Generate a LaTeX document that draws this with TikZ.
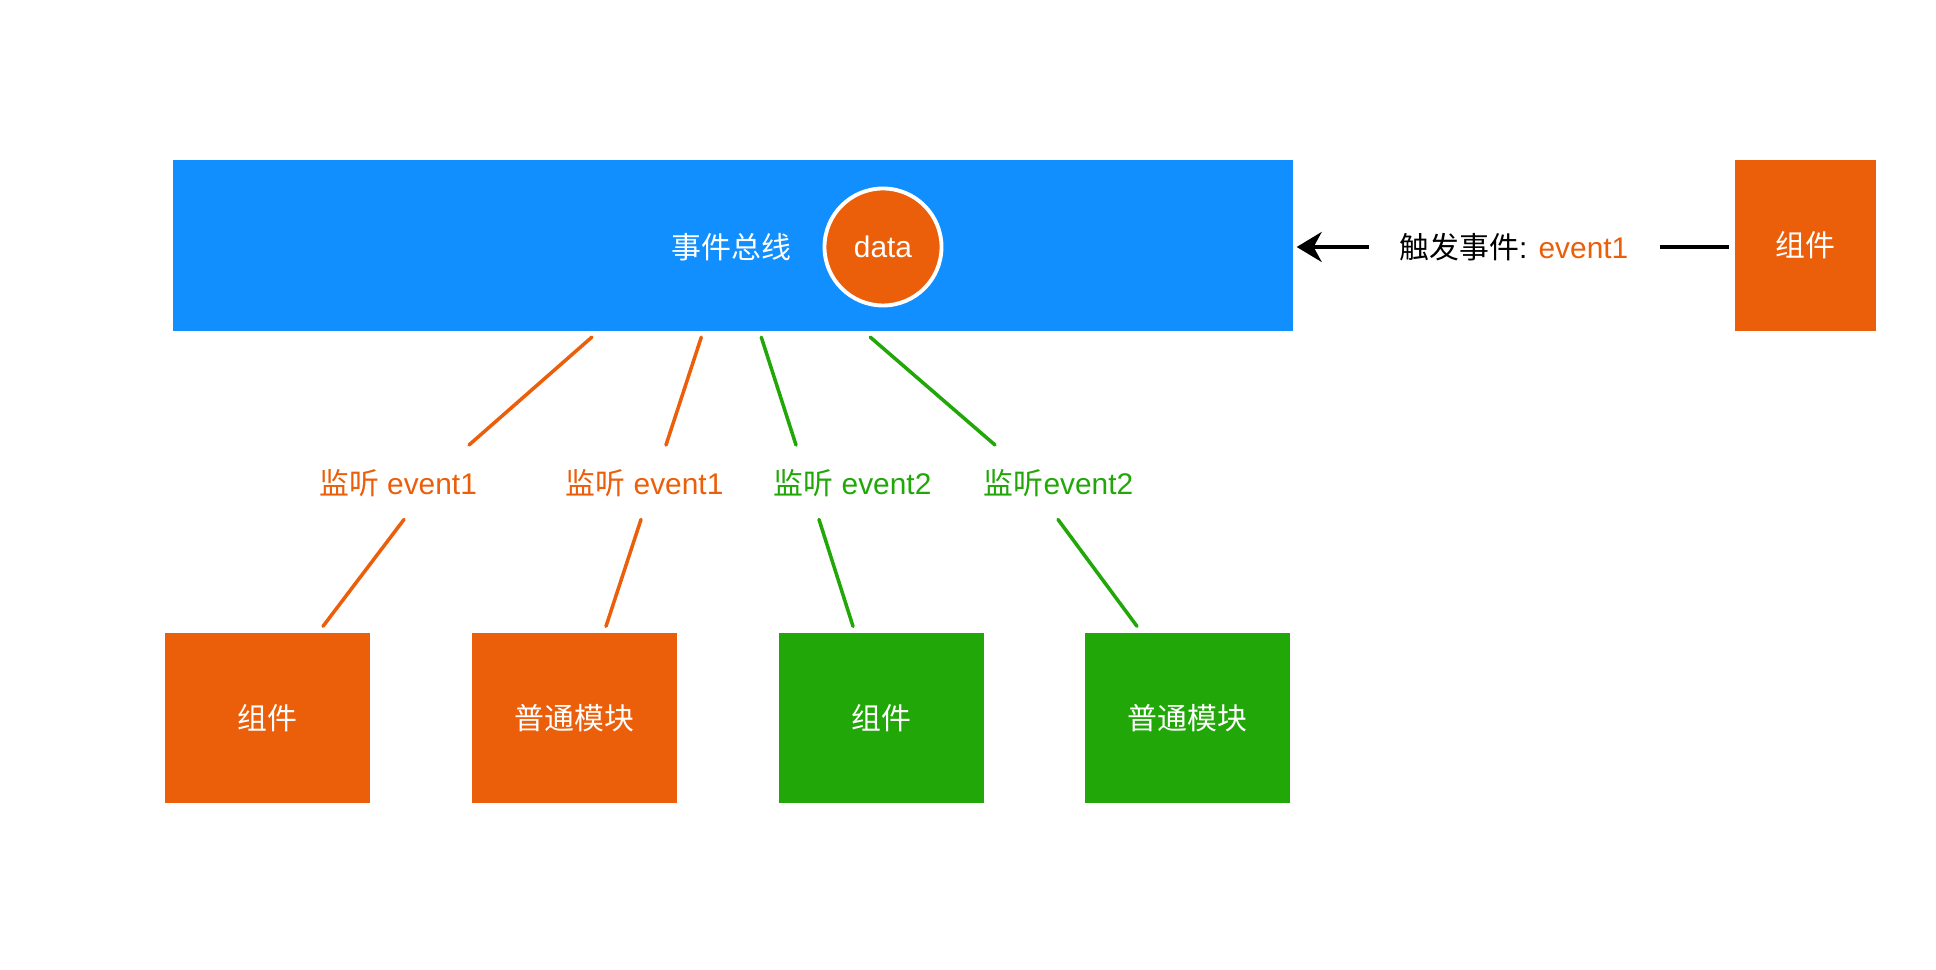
\documentclass[tikz,border=0pt]{standalone}
\usepackage{fontspec}
\setmainfont{Liberation Sans}
\newfontfamily\cjk{Noto Sans CJK SC}
\usepackage{tikz}
\usetikzlibrary{arrows.meta,calc,positioning}
\definecolor{BusBlue}{HTML}{128FFF}
\definecolor{EvOrange}{HTML}{EB5E0A}
\definecolor{EvGreen}{HTML}{21A708}
\tikzset{
  txt/.style={inner sep=0pt,font=\fontsize{8.5}{10}\selectfont},
  modbox/.style={fill=#1,minimum width=2.05cm,minimum height=1.70cm,text=white,font=\cjk\fontsize{8.5}{10}\selectfont},
  wire/.style={draw=#1,line width=1pt,line cap=round}
}
\begin{document}
\begin{tikzpicture}
\useasboundingbox (0,0) rectangle (19.36,9.70);
% event bus
\node[fill=BusBlue,minimum width=11.20cm,minimum height=1.71cm] (bus) at (7.33,7.245) {};
\node[txt,text=white,font=\cjk\fontsize{8.5}{10}\selectfont] (busname) at (7.315,7.23) {事件总线};
\node[circle,fill=EvOrange,draw=white,line width=1.1pt,minimum size=1.17cm,txt,text=white] (data) at (8.83,7.23) {data};
% emitting component
\node[modbox=EvOrange,minimum width=1.41cm,minimum height=1.71cm] (src) at (18.055,7.245) {组件};
\node[txt] (emit) at (15.14,7.23) {{\cjk 触发事件}: \textcolor{EvOrange}{event1}};
\draw[line width=1pt,-{Stealth[length=0.25cm,width=0.30cm]},shorten <=0.30cm,shorten >=0.03cm] (emit.west) -- (emit.west -| bus.east);
\draw[line width=1pt,shorten <=0.31cm,shorten >=0.05cm] (emit.east) -- (emit.east -| src.west);
% listeners
\foreach \x/\c/\t/\n in {2.675/EvOrange/组件/1,5.745/EvOrange/普通模块/2,8.81/EvGreen/组件/3,11.875/EvGreen/普通模块/4}
  \node[modbox=\c] (m\n) at (\x,2.52) {\t};
\foreach \x/\c/\e/\n in {3.98/EvOrange/{\cjk 监听} event1/1,6.445/EvOrange/{\cjk 监听} event1/2,8.525/EvGreen/{\cjk 监听} event2/3,10.585/EvGreen/{\cjk 监听}event2/4}
  \node[txt,text=\c] (l\n) at (\x,4.87) {\e};
\foreach \n/\c/\ua/\ub/\la/\lb in {1/EvOrange/4.195/0.71/0.06/0.555,2/EvOrange/5.29/0.215/-0.035/0.315,3/EvGreen/5.89/-0.565/-0.335/-0.28,4/EvGreen/6.98/-0.635/-0.005/-0.505}{
  \draw[wire=\c] ($(bus.south west)+(\ua,-0.055)$) -- ($(l\n)+(\ub,0.38)$);
  \draw[wire=\c] ($(l\n)+(\la,-0.365)$) -- ($(m\n.north)+(\lb,0.06)$);
}
\end{tikzpicture}
\end{document}
